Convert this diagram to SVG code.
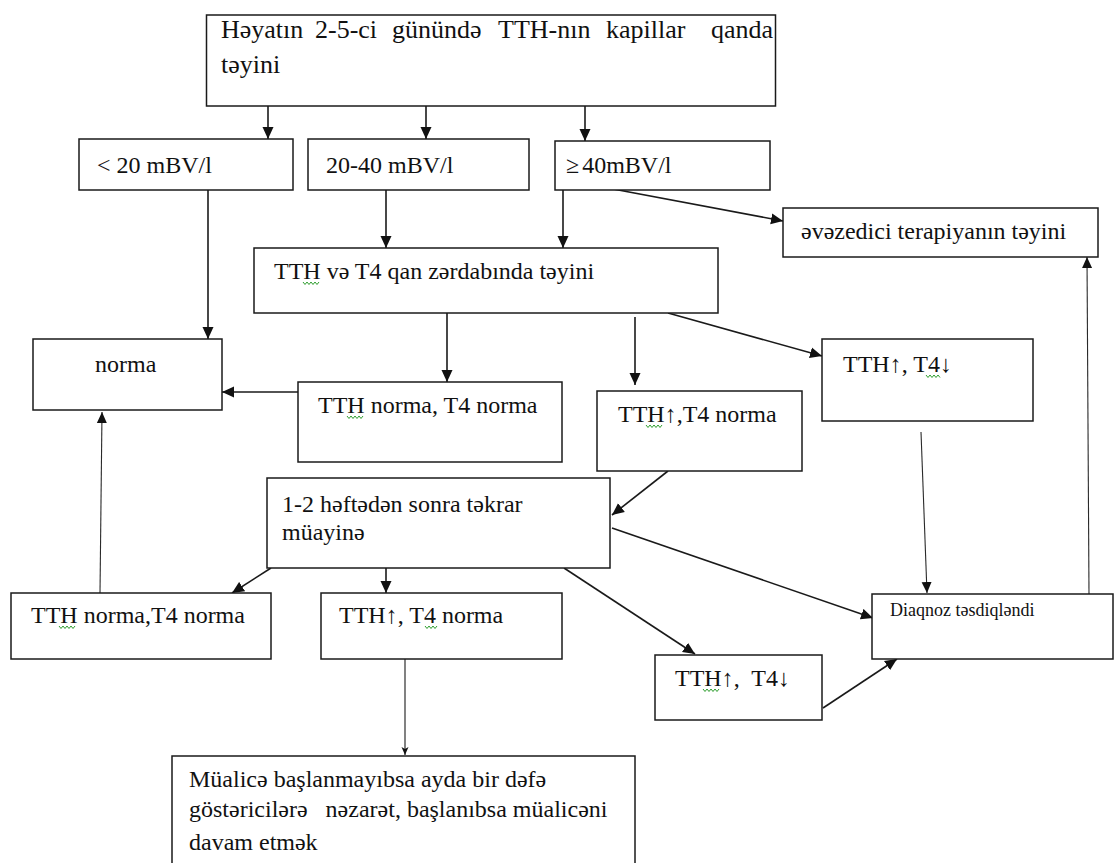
<svg xmlns="http://www.w3.org/2000/svg" width="1114" height="863" viewBox="0 0 1114 863">
  <style>
    .box { fill: #ffffff; stroke: #1a1a1a; stroke-width: 1.5; }
    .t { font-family: "Liberation Serif", "Times New Roman", serif; font-size: 24px; fill: #111111; white-space: pre; }
    .big { font-size: 26px; }
    .small { font-size: 18px; }
    .ln { fill: none; stroke: #1a1a1a; stroke-width: 1.6; marker-end: url(#ah); }
    .thin { fill: none; stroke: #2a2a2a; stroke-width: 1.1; marker-end: url(#ahs); }
    .tiny { fill: none; stroke: #1a1a1a; stroke-width: 1.1; marker-end: url(#aht); }
    .sq { fill: none; stroke: #2e9e2e; stroke-width: 1; }
  </style>
  <defs>
    <marker id="ah" markerUnits="userSpaceOnUse" markerWidth="12" markerHeight="12" refX="12" refY="6" orient="auto">
      <path d="M0,0.5 L12,6 L0,11.5 z" fill="#111111"/>
    </marker>
    <marker id="ahs" markerUnits="userSpaceOnUse" markerWidth="11" markerHeight="11" refX="11" refY="5.5" orient="auto">
      <path d="M0,0.5 L11,5.5 L0,10.5 z" fill="#111111"/>
    </marker>
    <marker id="aht" markerUnits="userSpaceOnUse" markerWidth="8" markerHeight="8" refX="8" refY="4" orient="auto">
      <path d="M0,0.5 L8,4 L0,7.5 L2,4 z" fill="#111111"/>
    </marker>
  </defs>

  <rect width="1114" height="863" fill="#ffffff"/>

  <!-- connectors -->
  <g id="connectors">
    <line class="ln" x1="268" y1="106" x2="268" y2="139"/>
    <line class="ln" x1="426" y1="106" x2="426" y2="139"/>
    <line class="ln" x1="585" y1="106" x2="585" y2="141"/>
    <line class="ln" x1="208" y1="190" x2="208" y2="339"/>
    <line class="ln" x1="386" y1="190" x2="386" y2="248"/>
    <line class="ln" x1="563" y1="190" x2="563" y2="248"/>
    <line class="ln" x1="613" y1="189" x2="783" y2="221"/>
    <line class="ln" x1="447" y1="313" x2="447" y2="382"/>
    <line class="ln" x1="635" y1="317" x2="635" y2="385"/>
    <line class="ln" x1="668" y1="313" x2="822" y2="356"/>
    <line class="ln" x1="298" y1="392" x2="222" y2="392"/>
    <line class="ln" x1="668" y1="471" x2="612" y2="515"/>
    <line class="ln" x1="612" y1="528" x2="873" y2="618"/>
    <line class="ln" x1="271" y1="568" x2="232" y2="593"/>
    <line class="ln" x1="386" y1="568" x2="386" y2="593"/>
    <line class="ln" x1="564" y1="568" x2="695" y2="654"/>
    <line class="ln" x1="823" y1="708" x2="897" y2="659"/>
    <line class="thin" x1="921" y1="432" x2="927" y2="593"/>
    <line class="thin" x1="1089" y1="594" x2="1087" y2="257"/>
    <line class="thin" x1="100" y1="593" x2="102" y2="412"/>
    <line class="tiny" x1="405" y1="659" x2="405" y2="755"/>
  </g>

  <g id="n-start">
    <rect class="box" x="206.5" y="15" width="569" height="91"/>
    <text class="t big" y="38"><tspan x="221">Həyatın</tspan><tspan x="315">2-5-ci</tspan><tspan x="392">günündə</tspan><tspan x="498">TTH-nın</tspan><tspan x="606">kapillar</tspan><tspan x="711">qanda</tspan></text>
    <text class="t big" x="221" y="73">təyini</text>
  </g>

  <g id="n-lt20">
    <rect class="box" x="79" y="139" width="214" height="51"/>
    <text class="t" x="97" y="173">&lt; 20 mBV/l</text>
  </g>

  <g id="n-20-40">
    <rect class="box" x="308" y="139" width="221" height="51"/>
    <text class="t" x="326" y="173">20-40 mBV/l</text>
  </g>

  <g id="n-ge40">
    <rect class="box" x="555" y="141" width="215" height="49"/>
    <text class="t" x="566" y="173">≥<tspan dx="3">40mBV/l</tspan></text>
  </g>

  <g id="n-therapy">
    <rect class="box" x="783" y="208" width="315" height="49"/>
    <text class="t" x="801" y="239">əvəzedici terapiyanın təyini</text>
  </g>

  <g id="n-serum">
    <rect class="box" x="254" y="248" width="464" height="65"/>
    <text class="t" x="274" y="279">TTH və T4 qan zərdabında təyini</text>
    <path class="sq" d="M303,282 l2,2.5 l2,-2.5 l2,2.5 l2,-2.5 l2,2.5 l2,-2.5 l2,2.5 l2,-2.5"/>
  </g>

  <g id="n-norma">
    <rect class="box" x="33" y="339" width="189" height="71"/>
    <text class="t" x="95" y="372">norma</text>
  </g>

  <g id="n-tsh-norm-1">
    <rect class="box" x="298" y="382" width="264" height="80"/>
    <text class="t" x="318" y="413">TTH norma, T4 norma</text>
    <path class="sq" d="M347,416 l2,2.5 l2,-2.5 l2,2.5 l2,-2.5 l2,2.5 l2,-2.5 l2,2.5 l2,-2.5"/>
  </g>

  <g id="n-tsh-up-norm-1">
    <rect class="box" x="597" y="391" width="205" height="80"/>
    <text class="t" x="618" y="422">TTH↑,T4 norma</text>
    <path class="sq" d="M646,425 l2,2.5 l2,-2.5 l2,2.5 l2,-2.5 l2,2.5 l2,-2.5 l2,2.5 l2,-2.5"/>
  </g>

  <g id="n-tsh-up-down-1">
    <rect class="box" x="822" y="339" width="211" height="82"/>
    <text class="t" x="843" y="372">TTH↑, T4↓</text>
    <path class="sq" d="M926,375 l2,2.5 l2,-2.5 l2,2.5 l2,-2.5 l2,2.5 l2,-2.5 l2,2.5"/>
  </g>

  <g id="n-repeat">
    <rect class="box" x="267" y="478" width="343" height="90"/>
    <text class="t" x="282" y="512">1-2 həftədən sonra təkrar</text>
    <text class="t" x="282" y="540">müayinə</text>
  </g>

  <g id="n-tsh-norm-2">
    <rect class="box" x="11" y="593" width="260" height="66"/>
    <text class="t" x="31" y="623">TTH norma,T4 norma</text>
    <path class="sq" d="M59,626 l2,2.5 l2,-2.5 l2,2.5 l2,-2.5 l2,2.5 l2,-2.5 l2,2.5 l2,-2.5"/>
  </g>

  <g id="n-tsh-up-norm-2">
    <rect class="box" x="321" y="593" width="241" height="66"/>
    <text class="t" x="339" y="623">TTH↑, T4 norma</text>
    <path class="sq" d="M425,626 l2,2.5 l2,-2.5 l2,2.5 l2,-2.5 l2,2.5 l2,-2.5"/>
  </g>

  <g id="n-tsh-up-down-2">
    <rect class="box" x="655" y="655" width="167" height="65"/>
    <text class="t" x="675" y="686">TTH↑,  T4↓</text>
    <path class="sq" d="M703,689 l2,2.5 l2,-2.5 l2,2.5 l2,-2.5 l2,2.5 l2,-2.5 l2,2.5 l2,-2.5"/>
  </g>

  <g id="n-diagnosis">
    <rect class="box" x="872" y="594" width="241" height="65"/>
    <text class="t small" x="890" y="616">Diaqnoz təsdiqləndi</text>
  </g>

  <g id="n-followup">
    <rect class="box" x="172" y="756" width="463" height="120"/>
    <text class="t" x="189" y="787">Müalicə başlanmayıbsa ayda bir dəfə</text>
    <text class="t" x="189" y="817">göstəricilərə   nəzarət, başlanıbsa müalicəni</text>
    <text class="t" x="189" y="850">davam etmək</text>
  </g>
</svg>
